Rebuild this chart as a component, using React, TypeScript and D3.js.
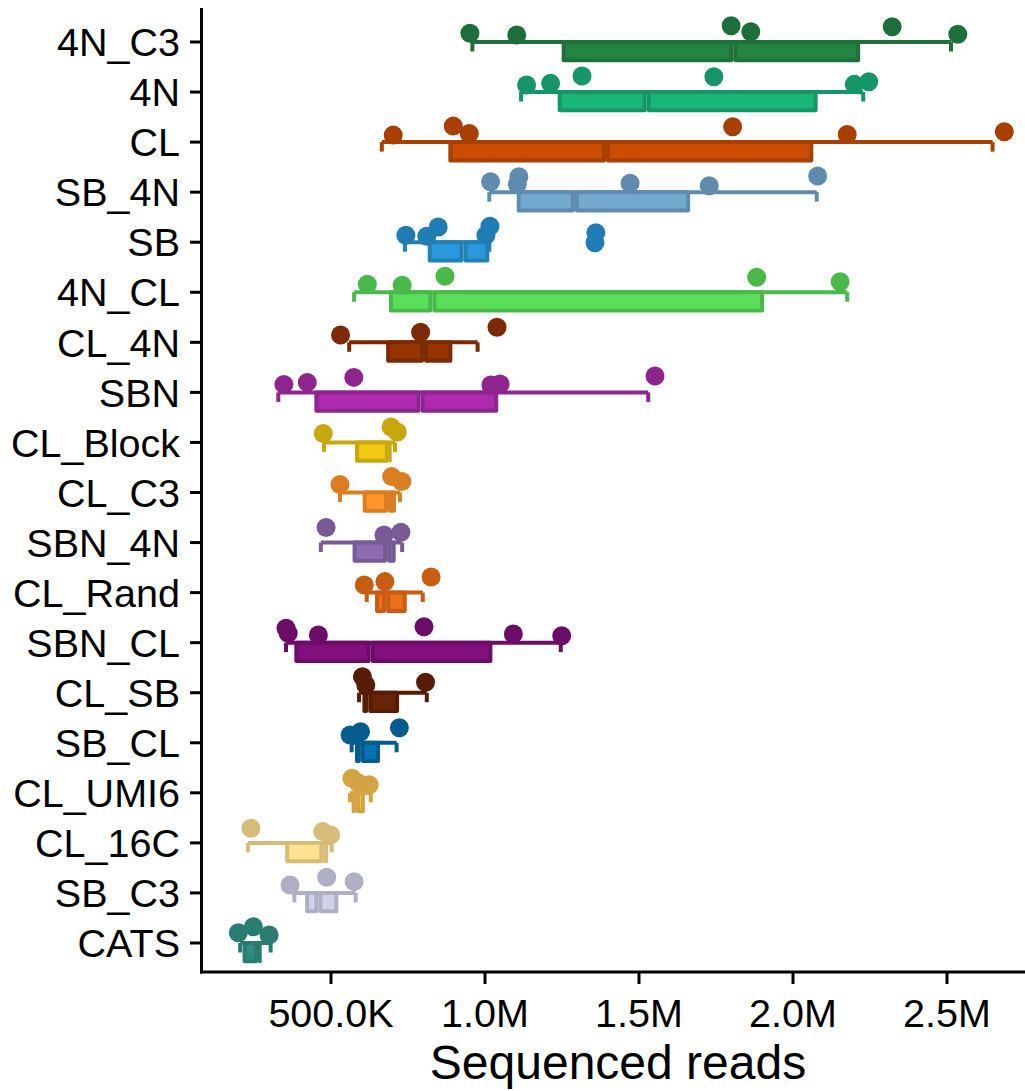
import React from 'react';
import * as d3 from 'd3';

const categories = ['4N_C3', '4N', 'CL', 'SB_4N', 'SB', '4N_CL', 'CL_4N', 'SBN', 'CL_Block', 'CL_C3', 'SBN_4N', 'CL_Rand', 'SBN_CL', 'CL_SB', 'SB_CL', 'CL_UMI6', 'CL_16C', 'SB_C3', 'CATS'];

// individual samples (thousands of reads)
const pointValues: number[][] = [
  [951, 1103, 1799, 1863, 2322, 2535],
  [1135, 1213, 1315, 1743, 2199, 2246],
  [702, 897, 949, 1804, 2176, 2686],
  [1018, 1105, 1110, 1471, 1728, 2080],
  [743, 811, 848, 1003, 1016, 1357, 1360],
  [618, 731, 870, 1882, 2153],
  [531, 791, 1039],
  [347, 423, 574, 1019, 1049, 1552],
  [475, 695, 715],
  [529, 697, 730],
  [484, 672, 727],
  [608, 675, 825],
  [354, 361, 459, 802, 1092, 1249],
  [602, 613, 807],
  [562, 596, 722],
  [568, 588, 624],
  [240, 473, 499],
  [367, 486, 575],
  [199, 248, 299],
];

// vertical jitter of each sample (px above the row line)
const pointJitter: number[][] = [
  [-8.7, -7, -16.3, -10.3, -15.3, -7.7],
  [-7, -8.7, -16, -15.3, -7.7, -10.3],
  [-7, -16, -8.7, -15.3, -7.7, -10.3],
  [-10.5, -8, -15.5, -9, -6.5, -16.2],
  [-7, -6, -15.3, -7, -16, 0.5, -9.5],
  [-8, -7, -16, -15, -10.6],
  [-7.4, -10, -15],
  [-8, -10, -15, -7.4, -8.4, -16.4],
  [-9, -15.5, -10.5],
  [-8, -16, -11],
  [-15, -7.6, -10.3],
  [-7.7, -11, -15.7],
  [-14.4, -9.4, -7.7, -16, -8.7, -7],
  [-16, -7.8, -10.5],
  [-7.8, -11, -15],
  [-14.6, -10, -8],
  [-14.7, -11.3, -8],
  [-8, -15.7, -11.3],
  [-10.3, -16.3, -8],
];

// box statistics (thousands of reads)
const lowerWhisker = [959, 1117, 665, 1014, 740, 575, 559, 329, 477, 529, 467, 616, 354, 591, 567, 562, 230, 381, 205];
const q1Values = [1249, 1236, 881, 1103, 814, 688, 679, 446, 578, 603, 570, 643, 381, 602, 578, 567, 351, 416, 213];
const medianValues = [1806, 1525, 1393, 1292, 930, 829, 802, 791, 688, 685, 682, 679, 629, 621, 597, 581, 475, 459, 263];
const q3Values = [2218, 2080, 2066, 1666, 1014, 1906, 894, 1043, 697, 711, 710, 746, 1024, 721, 659, 610, 491, 524, 275];
const upperWhisker = [2513, 2228, 2648, 2077, 1014, 2176, 976, 1530, 708, 724, 731, 798, 1246, 811, 713, 629, 502, 580, 304];

const pointColors = ['#1e6e3b', '#149668', '#a83e00', '#5f8cae', '#217cb5', '#4ab84b', '#7c2a04', '#8e258f', '#c8a60e', '#d97f22', '#775a96', '#c85c12', '#6b0c66', '#561c04', '#045b8e', '#d4a443', '#d5bd79', '#aeafc3', '#2a7b72'];
const fillColors = ['#238443', '#1ab678', '#cc4c02', '#74a9cf', '#2b98dc', '#5adf5a', '#963404', '#ae2aae', '#f2c812', '#fd972b', '#8f6bb4', '#eb7017', '#82107c', '#672406', '#0572b1', '#f7c352', '#fde38f', '#d1d2e7', '#2e8c82'];
const borderColors = ['#1f7039', '#159667', '#a84000', '#5f8cae', '#2380b5', '#4bb84c', '#7c2a04', '#8e258f', '#c8a60e', '#d97f22', '#775a96', '#c85c12', '#6b0c66', '#561c04', '#045b8e', '#d4a443', '#d5bd79', '#aeafc3', '#2a7b72'];

const tickValues = [500000, 1000000, 1500000, 2000000, 2500000];
const tickLabels = ['500.0K', '1.0M', '1.5M', '2.0M', '2.5M'];
const xTitle = 'Sequenced reads';

const W = 1025;
const H = 1091;
const FONT = '"Liberation Sans", Arial, Helvetica, sans-serif';

export default function App() {
  const left = 202;
  const right = 1025;
  const bottom = 972;
  const x = d3.scaleLinear().domain([81170, 2753250]).range([left, right]);
  const y = d3.scalePoint<string>().domain(categories).range([42, 943]);
  const K = 1000;

  const halfBox = (a: number, b: number, yc: number, border: string, fill: string, key: string) => {
    const top = yc - 2;
    const bot = yc + 20.3;
    const w = Math.max(b - a, 0.5);
    return (
      <g key={key}>
        <rect x={a} y={top} width={w} height={bot - top} rx={2} fill={border} />
        {w > 8 && <rect x={a + 4} y={top + 4} width={w - 8} height={bot - top - 8} fill={fill} />}
      </g>
    );
  };

  return (
    <svg width={W} height={H} style={{ position: 'absolute', left: 0, top: 0, background: '#fff' }} fontFamily={FONT}>
      {categories.map((c, i) => {
        const yc = y(c) as number;
        const border = borderColors[i];
        const xl = x(lowerWhisker[i] * K);
        const xh = x(upperWhisker[i] * K);
        const xq1 = x(q1Values[i] * K);
        const xm = x(medianValues[i] * K);
        const xq3 = x(q3Values[i] * K);
        return (
          <g key={c}>
            <line x1={xl} x2={xh} y1={yc} y2={yc} stroke={border} strokeWidth={4} />
            <line x1={xl} x2={xl} y1={yc} y2={yc + 9.5} stroke={border} strokeWidth={4} />
            <line x1={xh} x2={xh} y1={yc} y2={yc + 9.5} stroke={border} strokeWidth={4} />
            {halfBox(xq1, xm, yc, border, fillColors[i], 'l')}
            {halfBox(xm, xq3, yc, border, fillColors[i], 'r')}
            {pointValues[i].map((v, j) => (
              <circle key={j} cx={x(v * K)} cy={yc + pointJitter[i][j]} r={9.5} fill={pointColors[i]} />
            ))}
          </g>
        );
      })}

      {/* y axis */}
      <line x1={left - 0.5} x2={left - 0.5} y1={8} y2={bottom + 1.5} stroke="#000" strokeWidth={3} />
      {categories.map((c) => {
        const yc = y(c) as number;
        return (
          <g key={'yt' + c}>
            <line x1={left - 12} x2={left} y1={yc} y2={yc} stroke="#000" strokeWidth={3} />
            <text x={left - 22} y={yc} dy="0.36em" textAnchor="end" fontSize={39.5} fill="#000">{c}</text>
          </g>
        );
      })}

      {/* x axis */}
      <line x1={left - 2} x2={right} y1={bottom} y2={bottom} stroke="#000" strokeWidth={3} />
      {tickValues.map((t, i) => (
        <g key={'xt' + t}>
          <line x1={x(t)} x2={x(t)} y1={bottom} y2={bottom + 12} stroke="#000" strokeWidth={3} />
          <text x={x(t)} y={1027} textAnchor="middle" fontSize={39.5} fill="#000">{tickLabels[i]}</text>
        </g>
      ))}
      <text x={618} y={1079} textAnchor="middle" fontSize={48} fill="#000">{xTitle}</text>
    </svg>
  );
}
